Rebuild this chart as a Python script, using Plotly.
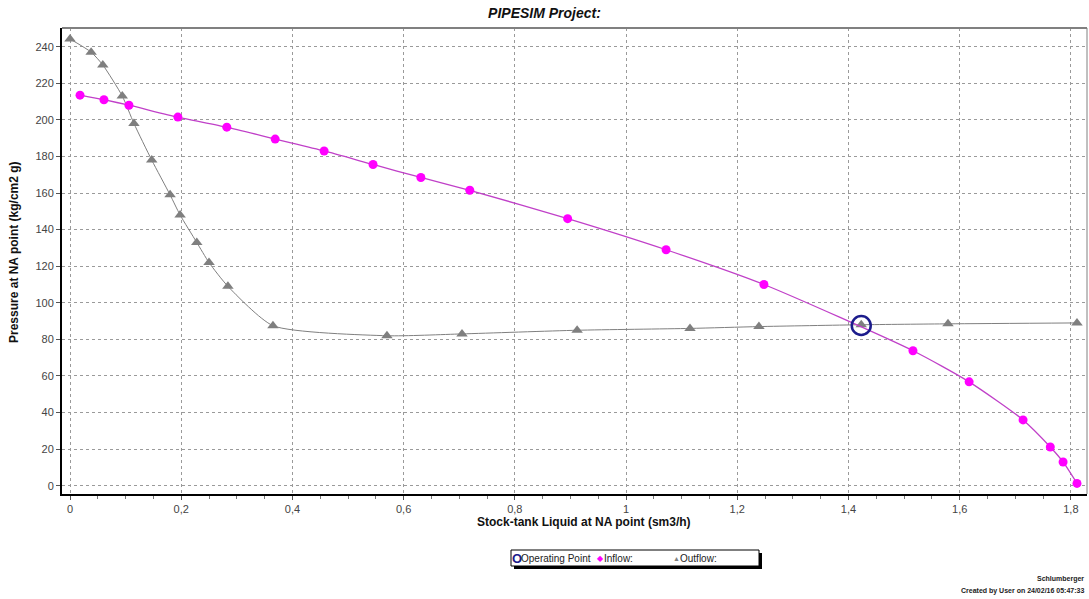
import plotly.graph_objects as go

# Outflow (gray triangles)
outflow_x = [0.0, 0.038, 0.059, 0.094, 0.115, 0.147, 0.180, 0.198, 0.228, 0.250, 0.284,
             0.365, 0.570, 0.705, 0.912, 1.115, 1.239, 1.423, 1.579, 1.811]
outflow_y = [244.2, 237, 230, 213, 198, 178, 159, 148, 133, 122, 109,
             87.5, 82, 83, 85, 86, 87, 88, 88.5, 89]

# Inflow (magenta circles)
inflow_x = [0.018, 0.061, 0.106, 0.194, 0.282, 0.369, 0.457, 0.545, 0.631, 0.719,
            0.895, 1.072, 1.248, 1.516, 1.617, 1.714, 1.763, 1.786, 1.811]
inflow_y = [213.5, 211, 208, 201.5, 196, 189.5, 183, 175.6, 168.5, 161.5,
            146, 129, 110, 73.8, 56.8, 36, 21.2, 13, 1.3]

# Operating point
op_x = [1.423]
op_y = [87.6]

x_ticks = [0, 0.2, 0.4, 0.6, 0.8, 1.0, 1.2, 1.4, 1.6, 1.8]
y_ticks = [0, 20, 40, 60, 80, 100, 120, 140, 160, 180, 200, 220, 240]

FONT = "Liberation Sans, Arial, sans-serif"

fig = go.Figure()
fig.add_trace(go.Scatter(
    x=outflow_x, y=outflow_y, name="Outflow:", mode="lines+markers",
    line=dict(color="#7f7f7f", width=1, shape="spline", smoothing=0.6),
    marker=dict(symbol="triangle-up", size=10, color="#7f7f7f")))
fig.add_trace(go.Scatter(
    x=inflow_x, y=inflow_y, name="Inflow:", mode="lines+markers",
    line=dict(color="#c040c8", width=1.3, shape="spline", smoothing=0.6),
    marker=dict(symbol="circle", size=9, color="#ff00ff")))
fig.add_trace(go.Scatter(
    x=op_x, y=op_y, name="Operating Point", mode="markers",
    marker=dict(symbol="circle-open", size=19, color="#1c1c8c",
                line=dict(width=2.5, color="#1c1c8c"))))

fig.update_layout(
    width=1089, height=599,
    margin=dict(l=62, r=2, t=28, b=105),
    paper_bgcolor="white", plot_bgcolor="white",
    separators=",.",
    font=dict(family=FONT, size=11, color="#333333"),
    title=dict(text="<b><i>PIPESIM Project:</i></b>", x=0.5, xanchor="center",
               y=0.987, yanchor="top", font=dict(size=14, color="#111111")),
    showlegend=False,
    xaxis=dict(range=[-0.0144, 1.829], tickvals=x_ticks, showgrid=True,
               gridcolor="#9a9a9a", griddash="3px,3px", gridwidth=1, zeroline=False,
               showline=True, linecolor="black", linewidth=2,
               ticks="outside", ticklen=4, tickcolor="#555",
               minor=dict(dtick=0.05, tick0=0, ticks="outside", ticklen=3,
                          tickcolor="#777", showgrid=False),
               tickfont=dict(size=11, color="#444444")),
    yaxis=dict(range=[-4.5, 250.2], tickvals=y_ticks, showgrid=True,
               gridcolor="#9a9a9a", griddash="3px,3px", gridwidth=1, zeroline=False,
               showline=True, linecolor="black", linewidth=2,
               ticks="outside", ticklen=4, tickcolor="#555",
               tickfont=dict(size=11, color="#444444")),
)

px = lambda p: (p - 62) / 1025
py = lambda p: (494 - p) / 466

# axis titles
fig.add_annotation(text="<b>Stock-tank Liquid at NA point (sm3/h)</b>", xref="paper", yref="paper",
                   x=px(584), y=py(522), xanchor="center", yanchor="middle", showarrow=False,
                   font=dict(size=12, color="#111111"))
fig.add_annotation(text="<b>Pressure at NA point (kg/cm2 g)</b>", xref="paper", yref="paper",
                   x=px(14), y=py(252), xanchor="center", yanchor="middle", showarrow=False,
                   textangle=-90, font=dict(size=12, color="#111111"))

# top and right frame lines (gray)
fig.add_shape(type="line", xref="paper", yref="paper", x0=0, x1=1, y0=1, y1=1,
              line=dict(color="#808080", width=2))
fig.add_shape(type="line", xref="paper", yref="paper", x0=1, x1=1, y0=0, y1=1,
              line=dict(color="#808080", width=1))

# legend box with shadow
fig.add_shape(type="rect", xref="paper", yref="paper",
              x0=px(514), x1=px(762), y0=py(569), y1=py(553),
              fillcolor="black", line=dict(width=0))
fig.add_shape(type="rect", xref="paper", yref="paper",
              x0=px(511), x1=px(759), y0=py(566), y1=py(550),
              fillcolor="white", line=dict(color="black", width=1))

leg_y = py(558.5)
legend_items = [
    (517, "<b>O</b>", 13, "#1c1c8c"),
    (556, "Operating Point", 10, "#222222"),
    (600, "◆", 8, "#ff00ff"),
    (618, "Inflow:", 10, "#222222"),
    (676, "▲", 7, "#7f7f7f"),
    (698, "Outflow:", 10, "#222222"),
]
for xp, txt, sz, col in legend_items:
    fig.add_annotation(text=txt, xref="paper", yref="paper", x=px(xp), y=leg_y,
                       xanchor="center", yanchor="middle", showarrow=False,
                       font=dict(size=sz, color=col, family=FONT))

fig.add_annotation(text="<b>Schlumberger</b>", xref="paper", yref="paper",
                   x=px(1086), y=py(579), xanchor="right", yanchor="middle",
                   showarrow=False, font=dict(size=7, color="#222"))
fig.add_annotation(text="<b>Created by User on 24/02/16 05:47:33</b>", xref="paper", yref="paper",
                   x=px(1086), y=py(591), xanchor="right", yanchor="middle",
                   showarrow=False, font=dict(size=7, color="#222"))

fig.write_html("out.html")
